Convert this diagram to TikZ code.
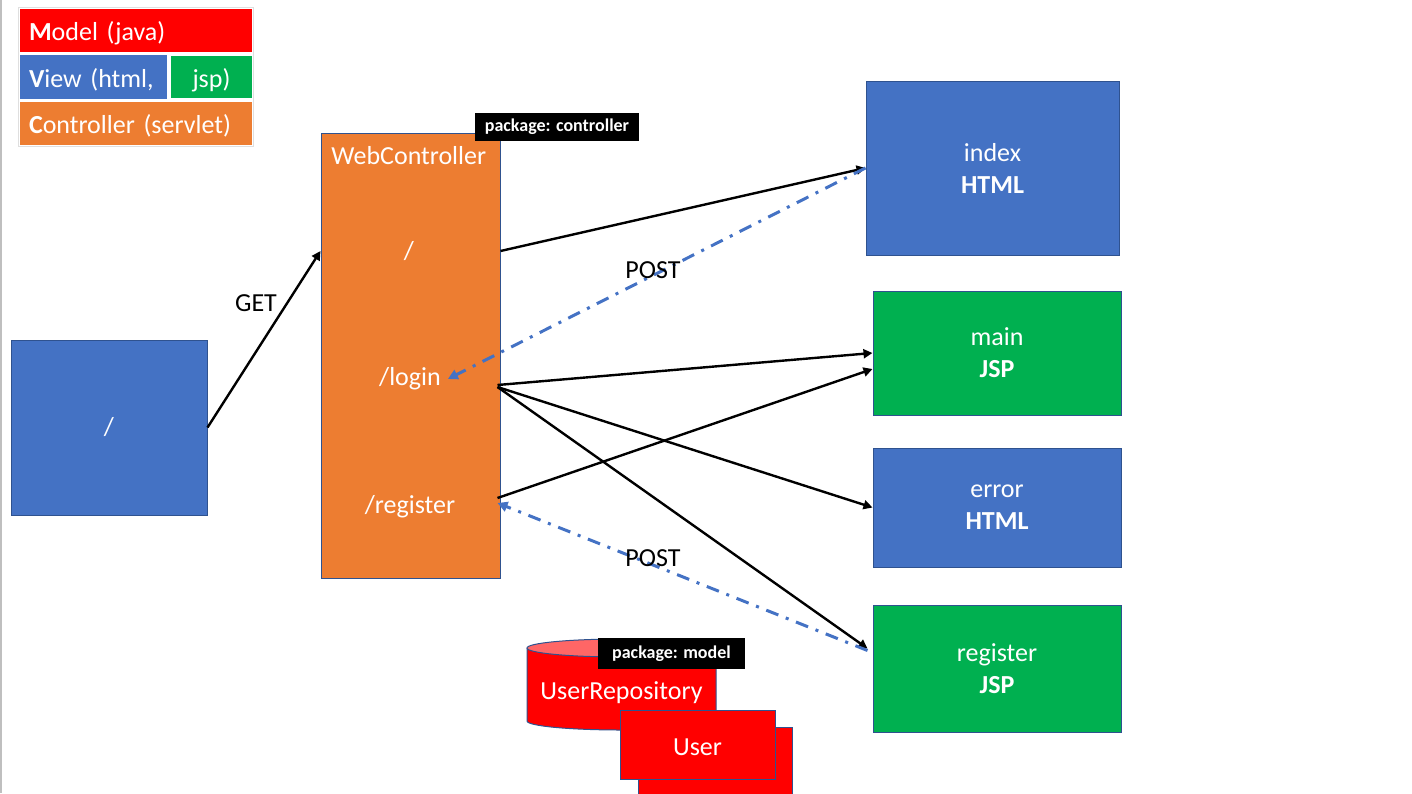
\documentclass[tikz,border=0pt]{standalone}
\usepackage{fontspec}
\setmainfont{Carlito}
\usetikzlibrary{arrows.meta}

\definecolor{mred}{HTML}{FF0000}
\definecolor{vblue}{HTML}{4472C4}
\definecolor{jgreen}{HTML}{00B050}
\definecolor{corange}{HTML}{ED7D31}
\definecolor{edgeblue}{HTML}{2F528F}
\definecolor{lightred}{HTML}{FF6666}

\begin{document}
\begin{tikzpicture}[x=0.5pt, y=-0.5pt,
	txt/.style={font=\fontsize{13}{16}\selectfont},
	box/.style={rectangle, draw=edgeblue, line width=0.5pt, text=white, align=center, inner sep=0pt, txt},
	html/.style={box, fill=vblue},
	jsp/.style={box, fill=jgreen},
	legend/.style={rectangle, draw=white, line width=0.8pt, text=white, inner sep=0pt, minimum height=22.5pt, text height=11pt, text depth=1pt, txt},
	pkg/.style={rectangle, fill=black, text=white, inner sep=0pt, font=\fontsize{9}{11}\selectfont\bfseries},
	call/.style={draw=black, line width=1.2pt, -{Triangle[length=4.5pt, width=4.5pt]}},
	post/.style={draw=vblue, line width=1.5pt, dash pattern=on 6.5pt off 4pt on 1.5pt off 4pt, -{Triangle[length=5pt, width=5pt]}}
]
\useasboundingbox (0,0) rectangle (1412,793);
\clip (0,0) rectangle (1412,793);
\draw[gray!50, line width=1pt] (1,0) -- (1,793);

% legend
\node [legend, fill=mred, text width=107pt, inner xsep=5pt, align=left] (mod) at (136,30.5) {\textbf{M}odel (java)};
\node [legend, fill=vblue, text width=64.5pt, inner xsep=5pt, align=left] (vw) at (93.5,77) {\textbf{V}iew (html,};
\node [legend, fill=jgreen, minimum width=41.5pt, minimum height=22pt] (js) at (211.5,77) {jsp)};
\node [legend, fill=corange, text width=107pt, inner xsep=5pt, align=left] (ctl) at (136,123.5) {\textbf{C}ontroller (servlet)};
\draw [gray!25, line width=0.5pt] (mod.north west) rectangle (ctl.south east);

% controller
\node [html, minimum width=98pt, minimum height=87.5pt] (home) at (109,427.5) {/};
\node [box, fill=corange, minimum width=89.5pt, minimum height=222.5pt] (wc) at (410.5,355.5) {};
\node [anchor=west, text=white, inner sep=0pt, txt] (wct) at (331,156) {WebController};
\node [text=white, txt] (root) at (409,251) {/};
\node [text=white, txt] (login) at (410,379) {/login};
\node [text=white, txt] (regp) at (410,507) {/register};
\node [pkg, minimum width=82pt, minimum height=14pt] (cpkg) at (557,127) {package: controller};

% views
\node [html, minimum width=126.5pt, minimum height=87pt] (idx) at (992.5,168) {index\\\textbf{HTML}};
\node [jsp, minimum width=124pt, minimum height=62pt] (main) at (997,353) {main\\\textbf{JSP}};
\node [html, minimum width=124pt, minimum height=59.5pt] (err) at (997,507.5) {error\\\textbf{HTML}};
\node [jsp, minimum width=124pt, minimum height=63.5pt] (reg) at (997,668.5) {register\\\textbf{JSP}};

% model
\fill [mred] (527,648) -- (527,721) arc[start angle=180, end angle=0, x radius=94.5, y radius=9] -- (716,648) -- cycle;
\draw [edgeblue, line width=0.5pt] (527,648) -- (527,721) arc[start angle=180, end angle=0, x radius=94.5, y radius=9] -- (716,648);
\filldraw [fill=lightred, draw=edgeblue, line width=0.5pt] (621.5,648) ellipse [x radius=94.5, y radius=9];
\node [text=white, txt] (repo) at (621.5,693) {UserRepository};
\node [pkg, minimum width=73.5pt, minimum height=15.5pt] (mpkg) at (671.5,653.5) {package: model};
\node [box, fill=mred, minimum width=77pt, minimum height=38pt] (usr2) at (715,765) {};
\node [box, fill=mred, minimum width=77.5pt, minimum height=34.5pt, text height=11pt, text depth=0pt] (usr) at (697.5,744.5) {User};

% connectors
\coordinate (lo) at (wc.east |- login);
\coordinate (ro) at (wc.east |- regp);
\draw [call] (home.east) -- (wc.west |- root);
\node [txt] (get) at (256,303) {GET};
\draw [call] (wc.east |- root) -- (idx.west);
\draw [post] (idx.west) -- (login.east);
\node [txt] (post1) at (653,270) {POST};
\draw [call] ([yshift=-3pt,xshift=-1.5pt]lo) -- (main.west);
\draw [call] ([yshift=-4pt,xshift=-1.5pt]lo) -- (err.west);
\draw [call] ([yshift=-4pt,xshift=-1.5pt]lo) -- ([yshift=10pt,xshift=-2.5pt]reg.west);
\draw [call] ([yshift=4.5pt,xshift=-1.5pt]ro) -- ([yshift=-8pt]main.west);
\draw [post] ([yshift=9pt,xshift=-2.5pt]reg.west) -- ([yshift=2pt,xshift=-1.5pt]ro);
\node [txt] (post2) at (653,558) {POST};
\end{tikzpicture}
\end{document}
